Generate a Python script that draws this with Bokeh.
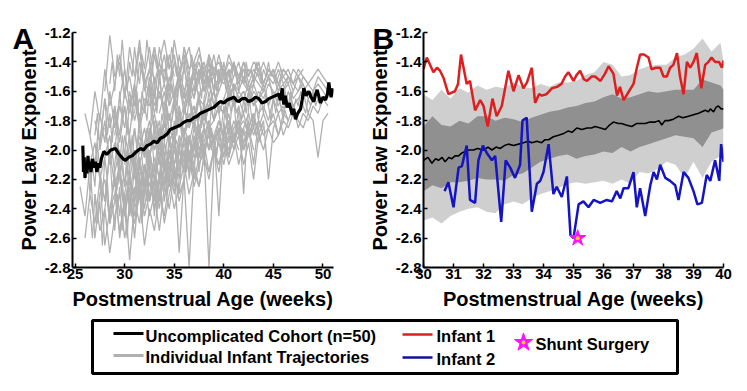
from bokeh.plotting import figure
from bokeh.layouts import column, row
from bokeh.models import Range1d, FixedTicker, PrintfTickFormatter
from bokeh.embed import file_html
from bokeh.resources import INLINE
from bokeh.core.properties import value

FONT = "Liberation Sans"

# ---------------- Data ----------------
y_ticks = [-2.8, -2.6, -2.4, -2.2, -2.0, -1.8, -1.6, -1.4, -1.2]
a_x_ticks = [25, 30, 35, 40, 45, 50]
b_x_ticks = [30, 31, 32, 33, 34, 35, 36, 37, 38, 39, 40]

# Panel A: individual infant trajectories, sampled every 0.5 week (start week, values)
traj_step = 0.5
traj_starts = [25.5, 26.0, 27.0, 27.5, 28.0, 28.5, 29.0, 29.5, 30.0, 31.0,
               32.0, 33.0, 35.0, 36.0, 26.0, 27.0, 38.0, 29.0, 40.0,
               26.5, 28.0, 29.0, 30.5, 31.5, 33.5, 34.0, 26.5, 37.0, 30.0, 27.5]
traj_values = [
    [-2.25, -2.45, -2.1, -2.6, -2.3, -2.2, -2.5, -2.35, -2.15, -2.4, -2.2, -2.3, -2.1, -2.25, -2.0,
     -2.2, -1.95, -2.1, -2.05, -1.9, -2.0, -1.85, -1.95, -1.8, -1.9, -1.75, -1.85, -1.8, -1.7, -1.75],
    [-1.75, -1.9, -1.6, -1.8, -1.45, -1.7, -1.55, -1.35, -1.6, -1.5, -1.7, -1.4, -1.55, -1.6, -1.3,
     -1.5, -1.45, -1.6, -1.4, -1.5, -1.35, -1.55, -1.45, -1.5, -1.4, -1.55, -1.45, -1.5],
    [-2.3, -2.55, -2.4, -2.7, -2.45, -2.3, -2.6, -2.4, -2.5, -2.2, -2.45, -2.3, -2.1, -2.35, -2.2,
     -2.0, -2.25, -2.1, -1.95, -2.15, -2.0, -1.9, -2.05, -1.85, -1.95, -1.8, -1.9, -2.0, -1.85, -1.8,
     -1.95, -1.85, -1.75, -1.9],
    [-2.0, -1.8, -2.1, -1.95, -2.2, -1.9, -2.05, -1.85, -2.1, -1.95, -1.8, -2.0, -1.85, -1.9, -1.75,
     -1.95, -1.8, -1.7, -1.85, -1.75, -1.65, -1.8, -1.7, -1.6, -1.75, -1.65, -1.7, -1.55, -1.65, -1.6,
     -1.7, -1.55, -1.65, -1.6, -1.5, -1.65, -1.6, -1.55, -1.7, -1.6],
    [-1.6, -1.22, -1.5, -1.4, -1.65, -1.3, -1.5, -1.25, -1.55, -1.45, -1.3, -1.5, -1.35, -1.6, -1.25,
     -1.45, -1.4, -1.3, -1.5, -1.35, -1.45, -1.4, -1.5, -1.45],
    [-2.4, -2.2, -2.6, -2.3, -2.75, -2.35, -2.5, -2.2, -2.45, -2.3, -2.55, -2.25, -2.4, -2.15, -2.3,
     -2.2, -2.8, -2.1, -2.25, -2.05, -2.15, -2.0, -2.1, -1.95, -2.05, -1.9, -2.1, -1.95, -1.85, -2.0],
    [-1.9, -1.7, -1.85, -1.6, -1.8, -1.65, -1.75, -1.5, -1.7, -1.6, -1.75, -1.55, -1.65, -1.45, -1.6,
     -1.5, -1.65, -1.45, -1.55, -1.4, -1.6, -1.5, -1.45, -1.55, -1.4, -1.5, -1.45, -1.6, -1.5, -1.4,
     -1.55, -1.45, -1.5, -1.6, -1.45, -1.5],
    [-2.2, -2.4, -2.15, -2.35, -2.1, -2.3, -2.0, -2.2, -2.05, -2.25, -1.95, -2.1, -2.0, -2.15, -1.9,
     -2.05, -1.95, -1.85, -2.0, -1.9, -2.45, -1.85, -1.95, -1.8, -1.9, -1.85, -1.75, -1.9, -1.8, -1.85],
    [-2.1, -1.9, -2.2, -2.0, -1.85, -2.05, -1.9, -2.1, -1.8, -1.95, -1.85, -1.7, -1.9, -1.75, -1.85,
     -1.65, -1.8, -1.7, -1.6, -1.75, -1.65, -1.7, -1.55, -1.65, -1.6, -1.7, -1.6, -1.65, -1.55, -1.7,
     -1.6, -1.65, -1.75, -1.6, -1.7, -1.65, -1.6, -1.75, -1.65, -1.6],
    [-2.5, -2.3, -2.65, -2.4, -2.55, -2.3, -2.45, -2.2, -2.4, -2.25, -2.1, -2.3, -2.15, -2.25, -2.05,
     -2.2, -2.0, -2.15, -1.95, -2.1, -2.0, -1.9, -2.1, -1.95, -2.2, -1.9, -2.0, -1.85, -1.95, -1.9],
    [-1.5, -1.3, -1.55, -1.4, -1.25, -1.45, -1.35, -1.55, -1.3, -1.45, -1.4, -1.3, -1.5, -1.35, -1.45,
     -1.4, -1.5, -1.35, -1.45, -1.5, -1.4, -1.55, -1.45, -1.5, -1.4, -1.5, -1.45, -1.55, -1.5, -1.45,
     -1.55, -1.5, -1.6, -1.55],
    [-1.95, -1.8, -2.05, -1.85, -1.95, -1.75, -1.9, -1.8, -1.7, -1.85, -1.75, -1.65, -1.8, -1.7, -1.75,
     -1.6, -1.7, -1.75, -2.3, -1.7, -1.65, -1.75, -1.7, -1.8, -1.65, -1.75, -1.7, -1.8],
    [-1.7, -1.55, -1.75, -1.6, -1.5, -1.65, -1.55, -1.45, -1.6, -1.5, -1.55, -1.45, -1.6, -1.5, -1.55,
     -1.6, -1.5, -1.55, -1.6, -1.5, -1.65, -1.55, -1.6, -1.5, -1.55, -1.6, -1.5, -1.55, -1.6, -1.5,
     -1.55, -1.6],
    [-2.0, -2.15, -1.9, -2.05, -1.85, -2.0, -1.9, -1.8, -1.95, -1.85, -2.0, -1.8, -1.9, -1.85, -2.1,
     -1.8, -1.9, -1.85, -1.75, -1.9, -1.8, -1.85, -1.75, -1.8, -1.85, -1.75, -1.8, -2.05, -1.8, -1.75],
    [-2.6, -2.3, -2.5, -2.2, -2.65, -2.4, -2.3, -2.55, -2.35, -2.2, -2.45, -2.3, -2.1, -2.35, -2.2,
     -2.4, -2.1, -2.25, -2.15, -2.3],
    [-1.8, -1.95, -1.65, -1.85, -1.7, -1.9, -1.6, -1.75, -1.55, -1.8, -1.65, -1.7, -1.5, -1.65, -1.55,
     -1.7, -1.6, -1.5, -1.65, -1.55, -1.6, -1.45, -1.6, -1.55, -1.5, -1.6],
    [-1.65, -1.5, -1.7, -1.55, -1.45, -1.6, -1.5, -1.4, -1.55, -1.45, -1.5, -1.4, -1.55, -1.45, -1.5,
     -1.55, -1.45, -1.5, -1.55, -1.45, -1.5, -1.55, -1.5, -1.45, -1.5, -1.55],
    [-2.3, -2.1, -2.45, -2.25, -2.6, -2.2, -2.4, -2.15, -2.35, -2.2, -2.5, -2.3, -2.15, -2.35, -2.2,
     -2.05, -2.25, -2.1, -2.0, -2.8, -2.05, -1.95],
    [-1.9, -1.75, -1.95, -1.8, -2.0, -1.85, -1.75, -1.9, -1.8, -2.2, -1.85, -1.75, -1.9, -1.8, -1.7,
     -1.85, -1.75, -1.8, -1.7, -1.75, -1.65, -1.7],
    [-2.1, -1.95, -2.2, -2.05, -1.9, -2.15, -2.0, -2.25, -1.95, -2.1, -1.9, -2.05, -1.85, -2.0, -1.9,
     -1.8, -1.95, -1.85, -1.75, -1.9, -1.8, -1.7, -1.85, -1.75, -1.65, -1.8, -1.7, -1.75, -1.6, -1.7,
     -1.65, -1.75, -1.6, -1.7, -1.65, -1.6],
    [-1.85, -2.05, -1.75, -1.95, -1.7, -1.9, -1.6, -1.85, -1.7, -1.55, -1.75, -1.6, -1.7, -1.5, -1.65,
     -1.55, -1.45, -1.6, -1.5, -1.4, -1.55, -1.45, -1.5, -1.35, -1.5, -1.4, -1.45, -1.55, -1.4, -1.5],
    [-2.35, -2.15, -2.4, -2.2, -2.3, -2.05, -2.25, -2.1, -2.2, -1.95, -2.15, -2.0, -2.1, -1.9, -2.05,
     -1.95, -2.0, -1.85, -1.95, -1.8, -2.0, -1.85, -1.9, -1.8, -1.95, -1.85, -1.8, -1.9],
    [-1.95, -2.15, -1.85, -2.05, -1.9, -1.75, -1.95, -1.8, -1.9, -1.7, -1.85, -1.75, -1.6, -1.8, -1.65,
     -1.7, -1.55, -1.7, -1.6, -1.5, -1.65, -1.55, -1.6, -1.5, -1.6, -1.55, -1.45, -1.6, -1.5, -1.55,
     -1.45, -1.55, -1.5, -1.6, -1.5, -1.55],
    [-2.3, -2.1, -2.35, -2.2, -2.05, -2.25, -2.1, -2.3, -2.0, -2.15, -2.05, -1.95, -2.1, -2.0, -1.9,
     -2.05, -1.95, -2.1, -1.9, -1.95, -1.85, -2.0, -1.9, -1.85, -1.95, -1.85],
    [-1.75, -1.6, -1.8, -1.65, -1.5, -1.7, -1.55, -1.65, -1.45, -1.6, -1.5, -1.35, -1.55, -1.45, -1.5,
     -1.4, -1.55, -1.45, -1.5, -1.4, -1.45, -1.55, -1.45, -1.5, -1.4, -1.5, -1.55, -1.45, -1.5, -1.45],
    [-2.05, -2.2, -1.95, -2.1, -1.9, -2.05, -1.85, -2.0, -1.9, -1.8, -1.95, -1.85, -2.05, -1.8, -1.9,
     -1.85, -1.75, -1.9, -1.8, -1.85, -1.75, -1.85, -1.8, -1.9, -1.75, -1.8],
    [-1.9, -2.1, -1.75, -1.95, -1.6, -1.85, -1.65, -1.45, -1.7, -1.55, -1.3, -1.6, -1.45, -1.65, -1.4,
     -1.55, -1.35, -1.5],
    [-1.8, -1.65, -1.85, -1.7, -1.6, -1.75, -1.65, -1.55, -1.7, -1.6, -1.65, -1.55, -1.7, -1.6, -1.65,
     -1.55, -1.6, -1.7, -1.6, -1.55, -1.65, -1.6, -1.55, -1.65, -1.6, -1.55, -1.6, -1.65],
    [-2.0, -2.2, -2.35, -2.1, -2.3, -2.15, -2.4, -2.2, -2.05, -2.25, -2.1, -2.7, -2.15, -2.0, -2.2,
     -2.05, -1.95, -2.15, -2.0, -2.1, -1.95, -2.05, -1.9, -2.0],
    [-2.15, -2.35, -2.0, -2.25, -2.1, -2.45, -2.2, -2.0, -2.3, -2.1, -2.25, -2.05, -2.2, -1.95, -2.1,
     -2.0, -2.15, -1.9, -2.05, -1.95, -1.85, -2.0],
]

# Panel A: more individual trajectories, sampled every 0.25 week (start week, values)
fine_step = 0.25
fine_starts = [26.0, 27.0, 28.0, 29.0, 30.0, 31.0, 32.0, 34.0, 36.0, 40.0, 26.5, 28.5]
fine_values = [
    [-2.2, -2.05, -2.3, -2.1, -2.25, -1.95, -2.15, -2.35, -2.05, -2.2, -2.0, -2.3, -2.1, -1.95, -2.2,
     -2.05, -2.25, -2.0, -2.15, -1.9, -2.1, -2.2, -1.95, -2.05, -2.25, -2.0, -2.1, -1.9, -2.15, -2.0,
     -1.85, -2.05, -1.95, -2.1, -1.9, -2.0, -1.85, -2.05, -1.95, -1.9],
    [-1.9, -1.75, -2.0, -1.8, -1.65, -1.9, -1.75, -1.95, -1.7, -1.85, -1.6, -1.8, -1.7, -1.9, -1.65,
     -1.8, -1.55, -1.75, -1.85, -1.6, -1.7, -1.8, -1.55, -1.7, -1.6, -1.75, -1.5, -1.65, -1.8, -1.6,
     -1.7, -1.55, -1.65, -1.75, -1.5, -1.65, -1.6, -1.7, -1.55, -1.65],
    [-2.35, -2.2, -2.5, -2.3, -2.15, -2.4, -2.25, -2.55, -2.3, -2.2, -2.45, -2.3, -2.1, -2.35, -2.25,
     -2.5, -2.2, -2.35, -2.1, -2.3, -2.2, -2.4, -2.15, -2.25, -2.05, -2.3, -2.15, -2.0, -2.2, -2.1,
     -2.3, -2.05, -2.15, -1.95, -2.2, -2.05, -2.1, -1.95, -2.15, -2.0],
    [-2.0, -1.85, -2.1, -1.9, -2.05, -1.8, -1.95, -2.1, -1.85, -2.0, -1.75, -1.9, -2.05, -1.85, -1.95,
     -1.7, -1.9, -1.8, -2.0, -1.75, -1.85, -1.7, -1.9, -1.8, -1.65, -1.85, -1.75, -1.9, -1.7, -1.8,
     -1.65, -1.75, -1.85, -1.7, -1.6, -1.8, -1.7, -1.75, -1.6, -1.7],
    [-2.25, -2.1, -2.4, -2.2, -2.05, -2.3, -2.15, -2.35, -2.1, -2.25, -2.0, -2.2, -2.3, -2.1, -2.2,
     -1.95, -2.15, -2.05, -2.25, -2.0, -2.1, -2.2, -1.95, -2.1, -2.0, -2.15, -1.9, -2.05, -2.15, -1.95,
     -2.05, -1.9, -2.1, -1.95, -1.85, -2.0, -1.9, -2.05, -1.85, -1.95],
    [-1.75, -1.6, -1.85, -1.65, -1.5, -1.7, -1.6, -1.8, -1.55, -1.7, -1.45, -1.65, -1.75, -1.55, -1.65,
     -1.45, -1.6, -1.7, -1.5, -1.6, -1.4, -1.55, -1.65, -1.5, -1.6, -1.45, -1.55, -1.4, -1.6, -1.5,
     -1.55, -1.4, -1.5, -1.6, -1.45, -1.55, -1.4, -1.5, -1.45, -1.55],
    [-1.95, -2.1, -1.85, -2.0, -1.8, -1.95, -2.05, -1.85, -1.95, -1.75, -1.9, -2.0, -1.8, -1.9, -1.7,
     -1.85, -1.95, -1.75, -1.85, -1.7, -1.8, -1.9, -1.75, -1.85, -1.65, -1.8, -1.9, -1.7, -1.8, -1.65,
     -1.75, -1.85, -1.7, -1.8, -1.65, -1.75, -1.6, -1.75, -1.7, -1.8],
    [-2.1, -2.25, -2.0, -2.15, -1.95, -2.1, -2.2, -2.0, -2.1, -1.9, -2.05, -2.15, -1.95, -2.05, -1.85,
     -2.0, -2.1, -1.9, -2.0, -1.85, -1.95, -2.05, -1.9, -2.0, -1.8, -1.95, -2.05, -1.85, -1.95, -1.8,
     -1.9, -2.0, -1.85, -1.95, -1.8, -1.9, -1.75, -1.9, -1.85, -1.95],
    [-1.65, -1.5, -1.7, -1.55, -1.4, -1.6, -1.5, -1.65, -1.45, -1.55, -1.35, -1.5, -1.6, -1.45, -1.55,
     -1.4, -1.5, -1.6, -1.45, -1.55, -1.4, -1.5, -1.6, -1.45, -1.55, -1.4, -1.5, -1.45, -1.55, -1.4,
     -1.5, -1.55, -1.45, -1.5, -1.4, -1.5, -1.45, -1.55, -1.5, -1.45],
    [-1.8, -1.7, -1.9, -1.75, -1.65, -1.85, -1.7, -1.8, -1.65, -1.75, -1.6, -1.75, -1.85, -1.7, -1.8,
     -1.65, -1.75, -1.6, -1.7, -1.8, -1.65, -1.75, -1.6, -1.7, -1.8, -1.65, -1.7, -1.6, -1.75, -1.65,
     -1.7, -1.6, -1.7, -1.75, -1.65, -1.7, -1.6, -1.7, -1.65, -1.7],
    [-2.4, -2.6, -2.3, -2.5, -2.35, -2.65, -2.4, -2.25, -2.5, -2.35, -2.55, -2.3, -2.45, -2.2, -2.4,
     -2.6, -2.3, -2.45, -2.25, -2.4, -2.2, -2.5, -2.3, -2.15, -2.35, -2.25, -2.45, -2.2, -2.3, -2.15,
     -2.35, -2.2],
    [-1.55, -1.4, -1.6, -1.35, -1.5, -1.25, -1.45, -1.6, -1.4, -1.5, -1.3, -1.45, -1.55, -1.35, -1.45,
     -1.25, -1.4, -1.5, -1.35, -1.45, -1.3, -1.4, -1.55, -1.35, -1.45, -1.3, -1.4, -1.5, -1.35, -1.45,
     -1.3, -1.4, -1.5, -1.35, -1.45, -1.4],
]

# Panel A: uncomplicated cohort mean
cohort_a_weeks = [25.78, 25.85, 25.92, 26.0, 26.1, 26.2, 26.3, 26.4, 26.5, 26.6, 26.75, 26.9, 27.05,
                  27.2, 27.35, 27.5, 27.65, 27.9, 28.2, 28.6, 29.08, 29.35, 29.58, 29.85, 30.08, 30.4,
                  30.76, 31.2, 31.6, 31.9, 32.27, 32.6, 32.94, 33.3, 33.6, 33.95, 34.3, 34.6, 34.95,
                  35.3, 35.63, 36.0, 36.3, 36.6, 36.97, 37.3, 37.65, 38.0, 38.32, 38.65, 38.99, 39.3,
                  39.66, 40.0, 40.34, 40.7, 41.01, 41.25, 41.51, 41.85, 42.19, 42.5, 42.86, 43.2, 43.53,
                  43.85, 44.21, 44.55, 44.88, 45.2, 45.55, 45.7, 45.89, 46.05, 46.2, 46.39, 46.6, 46.9,
                  47.05, 47.23, 47.45, 47.74, 47.9, 48.07, 48.3, 48.57, 48.8, 49.08, 49.25, 49.41, 49.6,
                  49.74, 50.0, 50.25, 50.45, 50.59, 50.7, 50.82, 51.0]
cohort_a_values = [-1.97, -2.15, -2.05, -2.19, -2.08, -2.16, -2.04, -2.13, -2.08, -2.15, -2.06, -2.12,
                   -2.08, -2.15, -2.09, -2.12, -2.06, -2.01, -2.03, -2.0, -1.99, -2.02, -2.04, -2.06,
                   -2.07, -2.05, -2.04, -2.01, -1.99, -2.0, -1.97, -1.96, -1.94, -1.95, -1.92, -1.91,
                   -1.89, -1.86, -1.85, -1.84, -1.83, -1.81, -1.80, -1.80, -1.78, -1.77, -1.75, -1.74,
                   -1.73, -1.72, -1.71, -1.69, -1.67, -1.68, -1.66, -1.65, -1.64, -1.66, -1.67, -1.65,
                   -1.65, -1.67, -1.66, -1.64, -1.65, -1.68, -1.67, -1.65, -1.64, -1.63, -1.62, -1.66,
                   -1.58, -1.69, -1.63, -1.71, -1.68, -1.76, -1.72, -1.79, -1.75, -1.72, -1.66, -1.58,
                   -1.63, -1.60, -1.64, -1.67, -1.62, -1.59, -1.64, -1.68, -1.64, -1.66, -1.62, -1.54,
                   -1.6, -1.64, -1.58]

# Panel B: cohort mean and bands
cohort_b_weeks = [30.0, 30.15, 30.28, 30.4, 30.5, 30.62, 30.72, 30.85, 30.94, 31.05, 31.17, 31.28, 31.39,
                  31.52, 31.67, 31.8, 32.0, 32.15, 32.28, 32.42, 32.55, 32.7, 32.83, 33.0, 33.17, 33.33,
                  33.5, 33.61, 33.78, 33.94, 34.05, 34.17, 34.33, 34.5, 34.65, 34.83, 34.95, 35.11, 35.28,
                  35.45, 35.6, 35.72, 35.9, 36.06, 36.2, 36.33, 36.5, 36.6, 36.75, 36.94, 37.1, 37.25,
                  37.39, 37.55, 37.72, 37.85, 37.94, 38.05, 38.17, 38.33, 38.5, 38.65, 38.83, 39.0, 39.17,
                  39.28, 39.39, 39.5, 39.56, 39.67, 39.75, 39.83, 39.92, 40.0]
cohort_b_values = [-2.07, -2.05, -2.09, -2.06, -2.07, -2.05, -2.08, -2.05, -2.06, -2.04, -2.04, -2.02,
                   -2.01, -2.0, -2.0, -1.99, -2.0, -1.98, -2.0, -1.98, -1.99, -1.97, -1.96, -1.97, -1.96,
                   -1.95, -1.94, -1.95, -1.94, -1.95, -1.93, -1.93, -1.91, -1.90, -1.89, -1.87, -1.88,
                   -1.85, -1.86, -1.85, -1.85, -1.84, -1.85, -1.86, -1.83, -1.81, -1.82, -1.82, -1.83,
                   -1.84, -1.82, -1.82, -1.82, -1.81, -1.81, -1.80, -1.83, -1.80, -1.80, -1.79, -1.77,
                   -1.78, -1.77, -1.76, -1.75, -1.74, -1.73, -1.74, -1.72, -1.74, -1.71, -1.70, -1.72,
                   -1.72]

band_weeks = [30.0, 30.3, 30.6, 30.9, 31.2, 31.5, 31.8, 32.1, 32.4, 32.7, 33.0, 33.3, 33.6, 33.9, 34.2,
              34.5, 34.8, 35.1, 35.4, 35.7, 36.0, 36.3, 36.6, 36.9, 37.2, 37.5, 37.8, 38.1, 38.4, 38.7,
              39.0, 39.3, 39.6, 39.9, 40.0]
outer_upper = [-1.62, -1.66, -1.59, -1.65, -1.58, -1.61, -1.56, -1.59, -1.57, -1.58, -1.54, -1.57, -1.58,
               -1.55, -1.57, -1.54, -1.54, -1.53, -1.49, -1.47, -1.40, -1.42, -1.50, -1.49, -1.45, -1.43,
               -1.42, -1.42, -1.37, -1.35, -1.31, -1.24, -1.33, -1.27, -1.40]
inner_upper = [-1.84, -1.77, -1.83, -1.84, -1.80, -1.82, -1.77, -1.77, -1.80, -1.78, -1.79, -1.81, -1.78,
               -1.76, -1.74, -1.73, -1.71, -1.70, -1.68, -1.67, -1.64, -1.62, -1.65, -1.64, -1.62, -1.60,
               -1.61, -1.60, -1.59, -1.59, -1.59, -1.52, -1.54, -1.56, -1.59]
inner_lower = [-2.28, -2.24, -2.26, -2.22, -2.22, -2.21, -2.19, -2.20, -2.20, -2.21, -2.17, -2.16, -2.12,
               -2.08, -2.06, -2.04, -2.03, -2.06, -2.04, -2.03, -2.01, -2.02, -1.98, -2.01, -1.98, -1.96,
               -1.94, -1.92, -1.90, -1.91, -1.92, -1.98, -1.88, -1.86, -1.85]
outer_lower = [-2.48, -2.46, -2.50, -2.45, -2.42, -2.40, -2.39, -2.42, -2.43, -2.37, -2.35, -2.37, -2.33,
               -2.30, -2.28, -2.26, -2.23, -2.22, -2.23, -2.22, -2.21, -2.23, -2.20, -2.23, -2.15, -2.16,
               -2.13, -2.08, -2.10, -2.19, -2.08, -2.19, -2.08, -2.04, -2.03]

infant1_weeks = [30.0, 30.11, 30.33, 30.45, 30.55, 30.67, 30.83, 31.05, 31.15, 31.25, 31.44, 31.55, 31.72,
                 31.89, 32.0, 32.14, 32.3, 32.44, 32.61, 32.83, 33.0, 33.17, 33.33, 33.45, 33.61, 33.72,
                 33.85, 33.94, 34.1, 34.28, 34.45, 34.6, 34.72, 34.83, 35.0, 35.1, 35.22, 35.35, 35.45,
                 35.6, 35.72, 35.9, 36.05, 36.17, 36.33, 36.45, 36.55, 36.67, 36.85, 37.0, 37.1, 37.22,
                 37.35, 37.5, 37.6, 37.75, 37.89, 38.0, 38.11, 38.22, 38.33, 38.45, 38.55, 38.67, 38.78,
                 38.89, 39.0, 39.11, 39.26, 39.39, 39.5, 39.6, 39.72, 39.85, 39.95, 40.0]
infant1_values = [-1.45, -1.37, -1.47, -1.44, -1.46, -1.51, -1.62, -1.60, -1.55, -1.35, -1.55, -1.53,
                  -1.73, -1.66, -1.70, -1.84, -1.65, -1.77, -1.70, -1.46, -1.60, -1.49, -1.58, -1.54,
                  -1.44, -1.68, -1.62, -1.63, -1.62, -1.58, -1.57, -1.55, -1.50, -1.47, -1.53, -1.49,
                  -1.46, -1.52, -1.53, -1.50, -1.50, -1.53, -1.48, -1.43, -1.48, -1.63, -1.57, -1.66,
                  -1.60, -1.55, -1.45, -1.35, -1.35, -1.37, -1.45, -1.44, -1.44, -1.50, -1.50, -1.44,
                  -1.42, -1.34, -1.50, -1.62, -1.40, -1.44, -1.40, -1.34, -1.58, -1.42, -1.40, -1.37,
                  -1.40, -1.40, -1.44, -1.39]

infant2_weeks = [30.7, 30.83, 31.0, 31.17, 31.28, 31.44, 31.55, 31.72, 31.83, 31.98, 32.11, 32.28, 32.39,
                 32.59, 32.74, 32.89, 33.05, 33.22, 33.3, 33.44, 33.61, 33.78, 33.89, 34.0, 34.17, 34.33,
                 34.44, 34.61, 34.78, 34.9, 35.0, 35.17, 35.33, 35.5, 35.67, 35.89, 36.11, 36.28, 36.44,
                 36.56, 36.67, 36.83, 37.0, 37.11, 37.22, 37.39, 37.56, 37.67, 37.78, 37.89, 38.06, 38.22,
                 38.39, 38.5, 38.67, 38.83, 39.0, 39.13, 39.28, 39.44, 39.56, 39.72, 39.86, 39.92, 40.0]
infant2_values = [-2.28, -2.22, -2.39, -2.12, -2.11, -1.97, -2.34, -2.36, -2.07, -1.97, -2.02, -2.07,
                  -2.04, -2.49, -2.07, -2.12, -2.19, -2.10, -1.80, -1.78, -2.42, -2.23, -2.21, -2.15,
                  -1.96, -2.30, -2.25, -2.32, -2.18, -2.58, -2.60, -2.37, -2.35, -2.39, -2.34, -2.36,
                  -2.34, -2.35, -2.28, -2.33, -2.26, -2.26, -2.15, -2.39, -2.26, -2.45, -2.24, -2.15,
                  -2.20, -2.10, -2.19, -2.21, -2.24, -2.34, -2.15, -2.19, -2.28, -2.37, -2.36, -2.17,
                  -2.21, -2.07, -2.21, -1.96, -2.08]

shunt_week = [35.14]
shunt_value = [-2.60]

legend_labels = ["Uncomplicated Cohort (n=50)", "Individual Infant Trajectories",
                 "Infant 1", "Infant 2", "Shunt Surgery"]

# ---------------- Styling helpers ----------------
GRAY_TRAJ = "#b0b0b0"
RED = "#dd1f1f"
BLUE = "#1414c4"
LIGHT_BAND = "#cfcfcf"
DARK_BAND = "#909090"
MAGENTA = "#ff10ff"


def style(p, xticks, letter, letter_offset):
    p.outline_line_color = None
    p.grid.grid_line_color = None
    p.background_fill_color = "white"
    p.border_fill_color = "white"
    for ax in (p.xaxis[0], p.yaxis[0]):
        ax.axis_line_width = 2
        ax.axis_line_color = "black"
        ax.major_tick_in = 4
        ax.major_tick_out = 0
        ax.major_tick_line_width = 1.5
        ax.minor_tick_line_color = None
        ax.major_label_text_font = FONT
        ax.major_label_text_font_style = "bold"
        ax.major_label_text_font_size = "15px"
        ax.major_label_text_color = "black"
        ax.axis_label_text_font = FONT
        ax.axis_label_text_font_style = "bold"
        ax.axis_label_text_font_size = "20px"
        ax.axis_label_text_color = "black"
    p.xaxis.ticker = FixedTicker(ticks=xticks)
    p.yaxis.ticker = FixedTicker(ticks=y_ticks)
    p.yaxis.formatter = PrintfTickFormatter(format="%.1f")
    p.xaxis.major_label_standoff = 1
    p.yaxis.major_label_standoff = 2
    p.xaxis.axis_label_standoff = 6
    p.yaxis.axis_label_standoff = 2
    p.xaxis.axis_label = "Postmenstrual Age (weeks)"
    p.yaxis.axis_label = "Power Law Exponent"
    # panel letter
    p.title.text = letter
    p.title.text_font = FONT
    p.title.text_font_style = "bold"
    p.title.text_font_size = "30px"
    p.title.text_color = "black"
    p.title.align = "left"
    p.title.offset = letter_offset
    p.title.standoff = -44


# ---------------- Panel A ----------------
pA = figure(width=362, height=318, x_range=Range1d(24.74, 51.06), y_range=Range1d(-2.8, -1.2),
            min_border_left=72, min_border_right=29, min_border_top=32, min_border_bottom=51,
            output_backend="svg", toolbar_location=None, title="A")
style(pA, a_x_ticks, "A", -60)

xs = [[s + traj_step * i for i in range(len(v))] for s, v in zip(traj_starts, traj_values)]
pA.multi_line(xs=xs, ys=traj_values, line_color=GRAY_TRAJ, line_width=1.3)
xs_f = [[s + fine_step * i for i in range(len(v))] for s, v in zip(fine_starts, fine_values)]
pA.multi_line(xs=xs_f, ys=fine_values, line_color=GRAY_TRAJ, line_width=1.2)
pA.line(cohort_a_weeks, cohort_a_values, line_color="black", line_width=3.2)

# ---------------- Panel B ----------------
pB = figure(width=385, height=318, x_range=Range1d(30, 40), y_range=Range1d(-2.8, -1.2),
            min_border_left=61, min_border_right=24, min_border_top=32, min_border_bottom=51,
            output_backend="svg", toolbar_location=None, title="B")
style(pB, b_x_ticks, "B", -51)

pB.varea(x=band_weeks, y1=outer_lower, y2=outer_upper, fill_color=LIGHT_BAND)
pB.varea(x=band_weeks, y1=inner_lower, y2=inner_upper, fill_color=DARK_BAND)
pB.line(cohort_b_weeks, cohort_b_values, line_color="black", line_width=1.6)
pB.line(infant1_weeks, infant1_values, line_color=RED, line_width=2.5)
pB.line(infant2_weeks, infant2_values, line_color=BLUE, line_width=2.5)
pB.scatter(shunt_week, shunt_value, marker="star", size=17, fill_color=MAGENTA,
           line_color=MAGENTA)
pB.scatter(shunt_week, shunt_value, marker="circle", size=4, fill_color="#f5d000",
           line_color=None)

# ---------------- Legend panel ----------------
pL = figure(width=747, height=73, x_range=Range1d(0, 585), y_range=Range1d(53, 0),
            min_border_left=92, min_border_right=70, min_border_top=2, min_border_bottom=18,
            output_backend="svg", toolbar_location=None)
pL.axis.visible = False
pL.grid.grid_line_color = None
pL.outline_line_color = "black"
pL.outline_line_width = 3
pL.background_fill_color = "white"
pL.border_fill_color = "white"

pL.line([21, 51], [13, 13], line_color="black", line_width=3)
pL.line([21, 51], [35, 35], line_color=GRAY_TRAJ, line_width=3)
pL.line([310, 340], [14, 14], line_color=RED, line_width=2.5)
pL.line([310, 340], [37, 37], line_color="#10109a", line_width=2.5)
pL.scatter([431], [22], marker="star", size=19, fill_color=MAGENTA, line_color=MAGENTA)
pL.scatter([431], [22], marker="circle", size=4, fill_color="#f5d000", line_color=None)
pL.text(x=[53, 53, 344, 344, 443], y=[15, 36, 15, 38, 23], text=legend_labels,
        text_font=value(FONT), text_font_style="bold", text_font_size="16.5px",
        text_color="black", text_baseline="middle", text_align="left")

layout = column(row(pA, pB), pL)

with open("out.html", "w") as f:
    f.write(file_html(layout, INLINE))
